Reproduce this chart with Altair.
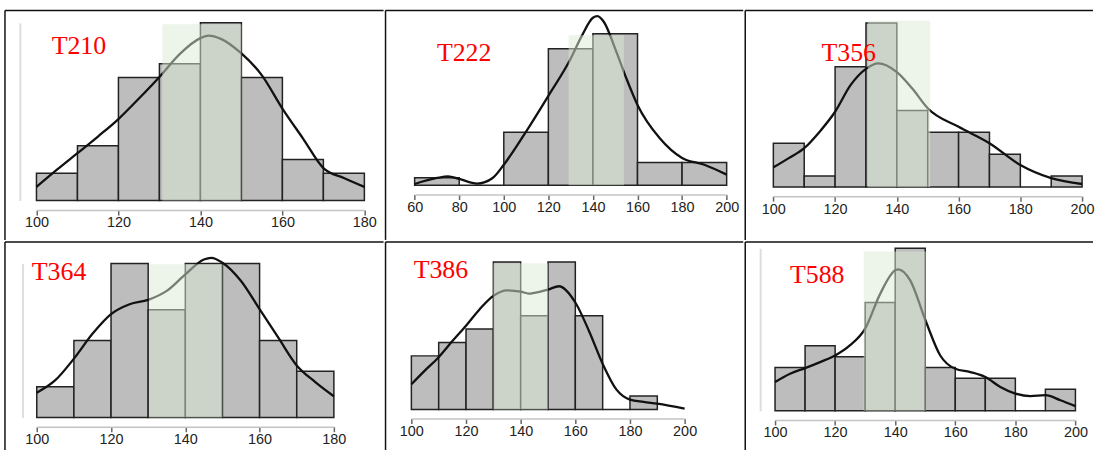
import altair as alt
import pandas as pd

# ---------------- data ----------------
names = ["T210", "T222", "T356", "T364", "T386", "T588"]

# histogram bin edges and counts
t210_edges = [100, 110, 120, 130, 140, 150, 160, 170, 180]
t210_counts = [2, 4, 9, 10, 13, 9, 3, 2]
t222_edges = [60, 80, 100, 120, 140, 160, 180, 200]
t222_counts = [1, 0, 7, 18, 20, 3, 3]
t356_edges = [100, 110, 120, 130, 140, 150, 160, 170, 180, 190, 200]
t356_counts = [4, 1, 11, 15, 7, 5, 5, 3, 0, 1]
t364_edges = [100, 110, 120, 130, 140, 150, 160, 170, 180]
t364_counts = [2, 5, 10, 7, 10, 10, 5, 3]
t386_edges = [100, 110, 120, 130, 140, 150, 160, 170, 180, 190]
t386_counts = [4, 5, 6, 11, 7, 11, 7, 0, 1]
t588_edges = [100, 110, 120, 130, 140, 150, 160, 170, 180, 190, 200]
t588_counts = [4, 6, 5, 10, 15, 4, 3, 3, 0, 2]

# density curves (x, height in count units)
t210_cx = [100, 105, 110, 115, 120, 125, 130, 135, 140, 142, 145, 150, 155, 160, 165, 170, 175, 180]
t210_cy = [0.99, 2.25, 3.46, 4.68, 5.96, 7.46, 9.04, 10.73, 11.88, 12.07, 11.83, 10.76, 9.16, 6.73, 4.55, 2.37, 1.64, 0.99]
t222_cx = [60, 70, 75, 80, 88, 95, 100, 110, 120, 130, 135, 140, 142, 145, 150, 155, 160, 170, 180, 190, 200]
t222_cy = [0.17, 0.96, 1.18, 0.83, 0.22, 0.96, 2.71, 7.08, 11.8, 16.7, 19.7, 22.1, 22.3, 21.5, 18.0, 14.1, 10.6, 6.2, 3.6, 2.7, 1.4]
t356_cx = [100, 105, 110, 115, 120, 125, 130, 134, 140, 145, 150, 160, 170, 180, 190, 200]
t356_cy = [1.79, 2.64, 3.55, 5.06, 6.88, 9.31, 10.8, 11.3, 10.5, 9.0, 7.2, 5.5, 4.0, 2.0, 0.8, 0.27]
t364_cx = [100, 105, 110, 115, 120, 125, 130, 135, 140, 145, 147, 150, 155, 160, 165, 170, 175, 180]
t364_cy = [1.61, 2.42, 3.82, 5.43, 6.71, 7.35, 7.64, 8.22, 9.29, 10.26, 10.37, 10.05, 8.86, 7.03, 5.2, 3.38, 2.30, 1.38]
t386_cx = [100, 105, 110, 115, 120, 125, 130, 135, 140, 143, 145, 150, 154, 160, 165, 170, 175, 180, 185, 190, 200]
t386_cy = [1.88, 2.92, 3.9, 5.1, 6.25, 7.48, 8.47, 8.89, 8.79, 8.64, 8.7, 8.94, 9.19, 7.98, 5.86, 3.41, 1.5, 0.74, 0.57, 0.44, 0.07]
t588_cx = [100, 105, 110, 115, 120, 125, 130, 135, 140, 141, 145, 150, 155, 160, 165, 170, 175, 180, 185, 190, 195, 200]
t588_cy = [2.66, 3.43, 3.94, 4.5, 5.11, 6.06, 7.59, 10.8, 12.97, 13.06, 12.04, 8.41, 5.11, 3.88, 3.58, 3.12, 2.2, 1.59, 1.35, 1.44, 0.98, 0.43]

# shaded band: [lo, hi, height in counts]
band_lo = [130.7, 129.1, 130.6, 130.2, 130.0, 129.5]
band_hi = [150.0, 153.9, 150.8, 150.0, 150.0, 150.2]
band_top = [12.9, 19.8, 15.2, 9.95, 10.9, 14.7]

# axis tick labels
t210_ticks = [100, 120, 140, 160, 180]
t222_ticks = [60, 80, 100, 120, 140, 160, 180, 200]
t356_ticks = [100, 120, 140, 160, 180, 200]
t364_ticks = [100, 120, 140, 160, 180]
t386_ticks = [100, 120, 140, 160, 180, 200]
t588_ticks = [100, 120, 140, 160, 180, 200]

edges = [t210_edges, t222_edges, t356_edges, t364_edges, t386_edges, t588_edges]
counts = [t210_counts, t222_counts, t356_counts, t364_counts, t386_counts, t588_counts]
cxs = [t210_cx, t222_cx, t356_cx, t364_cx, t386_cx, t588_cx]
cys = [t210_cy, t222_cy, t356_cy, t364_cy, t386_cy, t588_cy]
ticks = [t210_ticks, t222_ticks, t356_ticks, t364_ticks, t386_ticks, t588_ticks]
ymax = [13, 20, 15, 10, 11, 15]

# ---------------- layout / style (pixels) ----------------
layout = [
    dict(w=381, h=231, xr=[31.7, 361.7], yr=[191.3, 12.55], xoff=-30, tx=47, ty=44, yoff=-15),
    dict(w=360, h=231, xr=[29.3, 343.3], yr=[176.0, 23.4], xoff=-45.7, tx=51.7, ty=51.3, yoff=None),
    dict(w=350, h=231, xr=[28.3, 339.0], yr=[177.7, 12.7], xoff=-44, tx=76.7, ty=51, yoff=None),
    dict(w=381, h=211, xr=[32.0, 331.0], yr=[176.7, 21.7], xoff=-25, tx=27, ty=38.3, yoff=-17.7),
    dict(w=360, h=211, xr=[26.0, 301.0], yr=[168.7, 20.2], xoff=-33.3, tx=28.3, ty=36, yoff=None),
    dict(w=350, h=211, xr=[30.0, 332.3], yr=[170.0, 6.5], xoff=-31.7, tx=45, ty=41.7, yoff=-15),
]


def panel(i):
    L = layout[i]
    e = edges[i]
    bars = pd.DataFrame({"lo": e[:-1], "hi": e[1:], "n": counts[i], "z": [0] * len(counts[i])})
    curve = pd.DataFrame({"x": cxs[i], "y": cys[i]})
    band = pd.DataFrame({"lo": [band_lo[i]], "hi": [band_hi[i]], "top": [band_top[i]], "z": [0]})
    title = pd.DataFrame({"t": [names[i]]})
    one = pd.DataFrame({"k": [0]})

    xscale = alt.Scale(domain=[ticks[i][0], ticks[i][-1]], range=L["xr"], nice=False, zero=False)
    yscale = alt.Scale(domain=[0, ymax[i]], range=L["yr"], nice=False, zero=False)
    xaxis = alt.Axis(values=ticks[i], offset=L["xoff"], title=None, grid=False,
                     domainColor="#c4c4c4", domainWidth=1.5, tickColor="#666",
                     tickSize=5, tickWidth=1.5, labelFont="Liberation Sans",
                     labelFontSize=14.5, labelColor="#222", labelPadding=1,
                     labelFlush=False, labelOverlap=False, format="d")
    if L["yoff"] is not None:
        yaxis = alt.Axis(offset=L["yoff"], title=None, grid=False, labels=False, ticks=False,
                         domainColor="#dddddd", domainWidth=2)
    else:
        yaxis = None

    b = alt.Chart(bars).mark_bar(fill="#bdbdbd", stroke="#222", strokeWidth=1.5).encode(
        x=alt.X("lo:Q", scale=xscale, axis=xaxis),
        x2="hi:Q",
        y=alt.Y("n:Q", scale=yscale, axis=yaxis),
        y2="z:Q",
    )
    c = alt.Chart(curve).mark_line(color="#111", strokeWidth=2.3, interpolate="monotone").encode(
        x="x:Q", y="y:Q"
    )
    g = alt.Chart(band).mark_rect(fill="#dcebd5", opacity=0.5).encode(
        x="lo:Q", x2="hi:Q", y="top:Q", y2="z:Q"
    )
    t = alt.Chart(title).mark_text(font="Liberation Serif", fontSize=26, color="#ff0000",
                                   align="left", baseline="alphabetic").encode(
        text="t:N", x=alt.value(L["tx"]), y=alt.value(L["ty"])
    )
    # cell borders: top and left edge of each cell
    top_edge = alt.Chart(one).mark_rule(color="#111", strokeWidth=1.5).encode(
        x=alt.value(0), x2=alt.value(L["w"]), y=alt.value(0)
    )
    left_edge = alt.Chart(one).mark_rule(color="#111", strokeWidth=1.5).encode(
        x=alt.value(0), y=alt.value(0), y2=alt.value(L["h"])
    )
    return alt.layer(b, c, g, t, top_edge, left_edge).properties(width=L["w"], height=L["h"])


row1 = alt.hconcat(panel(0), panel(1), panel(2), spacing=0)
row2 = alt.hconcat(panel(3), panel(4), panel(5), spacing=0)
chart = alt.vconcat(row1, row2, spacing=0).properties(
    padding={"left": 4, "top": 8, "right": 0, "bottom": 0},
    background="white",
).configure_view(stroke=None, strokeWidth=0)

chart.save("out.html", embed_options={"renderer": "svg", "actions": False})
